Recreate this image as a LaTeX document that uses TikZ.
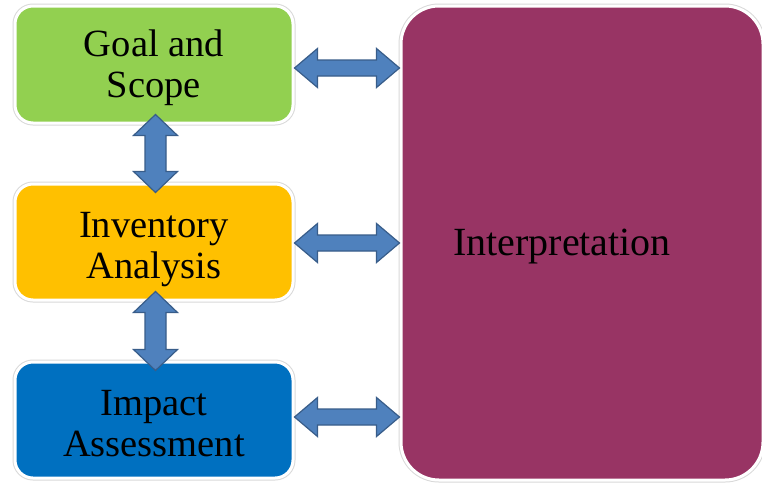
\documentclass[tikz,border=0pt]{standalone}
\usepackage{fontspec}
\setmainfont{Liberation Serif}
\usetikzlibrary{calc}
\definecolor{goalgreen}{HTML}{92D050}
\definecolor{invorange}{HTML}{FFC000}
\definecolor{impblue}{HTML}{0070C0}
\definecolor{interpmaroon}{HTML}{983464}
\definecolor{arrowfill}{HTML}{4F81BD}
\definecolor{arrowline}{HTML}{385D8A}
\tikzset{
  stagebox/.style={rectangle, rounded corners=18pt, draw=white, line width=3pt,
    preaction={draw=black!15, line width=5pt},
    minimum width=278pt, minimum height=116pt, inner sep=0pt},
  stagetext/.style={align=center, font=\fontsize{38.5}{41}\selectfont, text=black, inner sep=0pt},
  blockarrow/.style n args={4}{to path={
    let \p1=(\tikztostart), \p2=(\tikztotarget),
        \n1={veclen(\x2-\x1,\y2-\y1)}, \n2={atan2(\y2-\y1,\x2-\x1)} in
    {[shift={(\p1)}, rotate=\n2]
      (-#4,0) -- (-#4+#3,#1) -- (-#4+#3,#2) -- (\n1+#4-#3,#2) -- (\n1+#4-#3,#1)
      -- (\n1+#4,0) -- (\n1+#4-#3,-#1) -- (\n1+#4-#3,-#2) -- (-#4+#3,-#2)
      -- (-#4+#3,-#1) -- cycle}
  }},
  harrow/.style={blockarrow={19.5pt}{8pt}{23pt}{0pt}},
  varrow/.style={blockarrow={22pt}{10.5pt}{21pt}{10pt}},
  arrowpaint/.style={draw=arrowline, fill=arrowfill, line width=1.2pt, line join=miter}
}
\begin{document}
\begin{tikzpicture}[x=1pt,y=1pt]
  \useasboundingbox[fill=white] (0,0) rectangle (762,-485);
  \node[stagebox, fill=goalgreen, minimum height=117pt,
    label={[stagetext, name=goaltext, yshift=-3.5pt]center:{Goal and\\Scope}}] (goal) at (154,-64.5) {};
  \node[stagebox, fill=invorange,
    label={[stagetext, name=invtext, yshift=-7.5pt]center:{Inventory\\Analysis}}] (inv) at (154,-242) {};
  \node[stagebox, fill=impblue,
    label={[stagetext, name=imptext, yshift=-3.5pt]center:{Impact\\Assessment}}] (imp) at (154,-420) {};
  \node[rectangle, rounded corners=38pt, draw=white, line width=3pt,
    preaction={draw=black!15, line width=5pt}, fill=interpmaroon,
    minimum width=362pt, minimum height=474pt, inner sep=0pt] (interp) at (582,-243) {};
  \node[font=\fontsize{40}{44}\selectfont, text=black, inner sep=0pt] (interptext) at ([xshift=-20pt,yshift=-4pt]interp.center) {Interpretation};
  \draw[arrowpaint] ([yshift=-3.5pt]goal.east) to[harrow] ($(interp.west |- goal.east)+(0,-3.5)$);
  \draw[arrowpaint] ([yshift=-1pt]inv.east) to[harrow] ($(interp.west |- inv.east)+(0,-1)$);
  \draw[arrowpaint] ([yshift=3pt]imp.east) to[harrow] ($(interp.west |- imp.east)+(0,3)$);
  \draw[arrowpaint] ([xshift=1.5pt]goal.south) to[varrow] ([xshift=1.5pt]inv.north);
  \draw[arrowpaint] ([xshift=1.5pt]inv.south) to[varrow] ([xshift=1.5pt]imp.north);
\end{tikzpicture}
\end{document}
